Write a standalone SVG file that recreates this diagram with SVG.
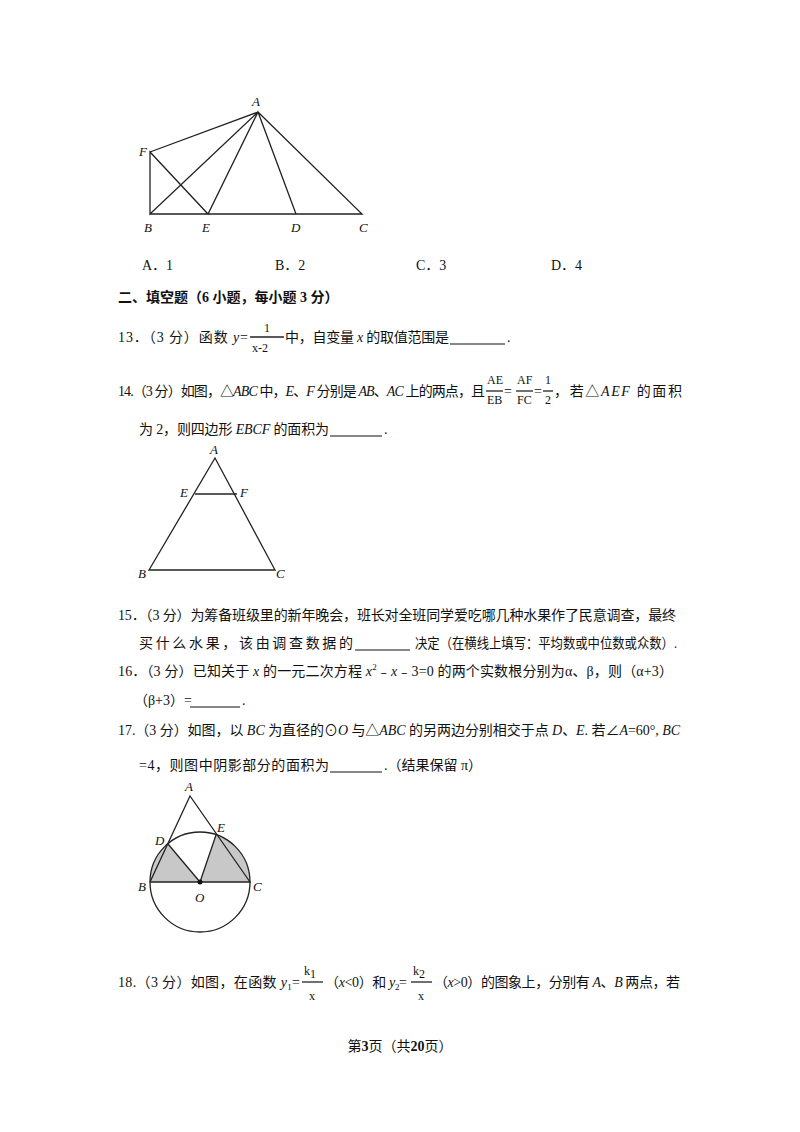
<svg xmlns="http://www.w3.org/2000/svg" width="800" height="1132" viewBox="0 0 800 1132">
<style>
text{font-family:"Liberation Serif","Noto Sans CJK SC",serif;font-size:14px;fill:#111}
.l{font-style:italic;font-size:13px}
.f{font-size:12px}
.i{font-style:italic}
line,polyline,polygon{stroke:#222;stroke-width:1.3;fill:none}
.u{stroke:#111;stroke-width:1.2}
</style>
<rect width="800" height="1132" fill="#fff"/>
<g id="fig1">
<polyline points="150,152 258,112 150,214 150,152 208,214 258,112 296,214 258,112 362,214 150,214"/>
<text class="l" x="252" y="106">A</text><text class="l" x="139" y="156">F</text>
<text class="l" x="144" y="232">B</text><text class="l" x="202" y="232">E</text>
<text class="l" x="291" y="232">D</text><text class="l" x="359" y="232">C</text>
</g>
<text x="142" y="270">A．1</text><text x="275" y="270">B．2</text><text x="416" y="270">C．3</text><text x="551" y="270">D．4</text>
<text x="118" y="302" font-weight="bold">二、填空题（6 小题，每小题 3 分）</text>
<text x="118" y="342" textLength="130" lengthAdjust="spacing">13．（3 分）函数 <tspan class="i">y</tspan>=</text>
<text class="f" x="264" y="332">1</text><line x1="250" y1="337" x2="284" y2="337" stroke-width="1"/><text class="f" x="252" y="352">x-2</text>
<text x="285" y="342" textLength="164" lengthAdjust="spacing">中，自变量 <tspan class="i">x</tspan> 的取值范围是</text>
<line class="u" x1="450" y1="344" x2="505" y2="344"/><text x="507" y="342">.</text>
<text x="118" y="396" textLength="367" lengthAdjust="spacing">14.（3 分）如图，△<tspan class="i">ABC</tspan> 中，<tspan class="i">E</tspan>、<tspan class="i">F</tspan> 分别是 <tspan class="i">AB</tspan>、<tspan class="i">AC</tspan> 上的两点，且</text>
<text class="f" x="487" y="384">AE</text><line x1="486" y1="391" x2="503" y2="391" stroke-width="1"/><text class="f" x="487" y="404">EB</text>
<text x="504" y="396" font-size="12">=</text>
<text class="f" x="517" y="384">AF</text><line x1="516" y1="391" x2="533" y2="391" stroke-width="1"/><text class="f" x="517" y="404">FC</text>
<text x="534" y="396" font-size="12">=</text>
<text class="f" x="545" y="384">1</text><line x1="543" y1="391" x2="553" y2="391" stroke-width="1"/><text class="f" x="545" y="404">2</text>
<text x="554" y="396" textLength="128" lengthAdjust="spacing">，若△<tspan class="i">AEF</tspan> 的面积</text>
<text x="139" y="434" textLength="190" lengthAdjust="spacing">为 2，则四边形 <tspan class="i">EBCF</tspan> 的面积为</text>
<line class="u" x1="330" y1="436" x2="382" y2="436"/><text x="384" y="434">.</text>
<g id="fig2">
<polygon points="215,458 149,570 275,570"/><line x1="195" y1="494" x2="237" y2="494"/>
<text class="l" x="210" y="454">A</text><text class="l" x="180" y="497">E</text><text class="l" x="240" y="497">F</text>
<text class="l" x="138" y="578">B</text><text class="l" x="276" y="578">C</text>
</g>
<text x="118" y="620" textLength="558" lengthAdjust="spacing">15．（3 分）为筹备班级里的新年晚会，班长对全班同学爱吃哪几种水果作了民意调查，最终</text>
<text x="139" y="648" textLength="214" lengthAdjust="spacing">买什么水果，该由调查数据的</text>
<line class="u" x1="355" y1="650" x2="410" y2="650"/>
<text x="415" y="648" textLength="262" lengthAdjust="spacingAndGlyphs">决定（在横线上填写：平均数或中位数或众数）.</text>
<text x="118" y="676" textLength="555" lengthAdjust="spacing">16．（3 分）已知关于 <tspan class="i">x</tspan> 的一元二次方程 <tspan class="i">x</tspan><tspan font-size="9" dy="-6">2</tspan><tspan dy="6">﹣<tspan class="i">x</tspan>﹣3=0 的两个实数根分别为α、β，则（α+3）</tspan></text>
<text x="134" y="705">（β+3）=</text>
<line class="u" x1="190" y1="707" x2="240" y2="707"/><text x="242" y="705">.</text>
<text x="118" y="735" textLength="562" lengthAdjust="spacing">17.（3 分）如图，以 <tspan class="i">BC</tspan> 为直径的⊙<tspan class="i">O</tspan> 与△<tspan class="i">ABC</tspan> 的另两边分别相交于点 <tspan class="i">D</tspan>、<tspan class="i">E</tspan>. 若∠<tspan class="i">A</tspan>=60°, <tspan class="i">BC</tspan></text>
<text x="139" y="770" textLength="190" lengthAdjust="spacing">=4，则图中阴影部分的面积为</text>
<line class="u" x1="330" y1="772" x2="382" y2="772"/>
<text x="384" y="770">.（结果保留 π）</text>
<g id="fig3">
<path d="M150,882 A50,50 0 0 1 168,844 L200,882 Z M216,835 A50,50 0 0 1 250,882 L200,882 Z" fill="#c8c8c8" stroke="none"/>
<circle cx="200" cy="882" r="50" fill="none" stroke="#222" stroke-width="1.3"/>
<polyline points="150,882 190,796 250,882 150,882"/>
<line x1="168" y1="844" x2="200" y2="882"/><line x1="216" y1="835" x2="200" y2="882"/>
<circle cx="200" cy="882" r="2.5" fill="#111"/>
<text class="l" x="185" y="791">A</text><text class="l" x="155" y="845">D</text><text class="l" x="217" y="832">E</text>
<text class="l" x="138" y="891">B</text><text class="l" x="195" y="902">O</text><text class="l" x="253" y="891">C</text>
</g>
<text x="118" y="987" textLength="182" lengthAdjust="spacing">18.（3 分）如图，在函数 <tspan class="i">y</tspan><tspan font-size="9" dy="3">1</tspan><tspan dy="-3">=</tspan></text>
<text class="f" x="304" y="975">k<tspan dy="3">1</tspan></text><line x1="302" y1="982" x2="323" y2="982" stroke-width="1"/><text class="f" x="309" y="1000">x</text>
<text x="325" y="987" textLength="82" lengthAdjust="spacing">（<tspan class="i">x</tspan>&lt;0）和 <tspan class="i">y</tspan><tspan font-size="9" dy="3">2</tspan><tspan dy="-3">=</tspan></text>
<text class="f" x="413" y="975">k<tspan dy="3">2</tspan></text><line x1="411" y1="982" x2="432" y2="982" stroke-width="1"/><text class="f" x="418" y="1000">x</text>
<text x="434" y="987" textLength="246" lengthAdjust="spacing">（<tspan class="i">x</tspan>&gt;0）的图象上，分别有 <tspan class="i">A</tspan>、<tspan class="i">B</tspan> 两点，若</text>
<text x="400" y="1051" text-anchor="middle" font-size="13">第<tspan font-weight="bold">3</tspan>页（共<tspan font-weight="bold">20</tspan>页）</text>
</svg>
